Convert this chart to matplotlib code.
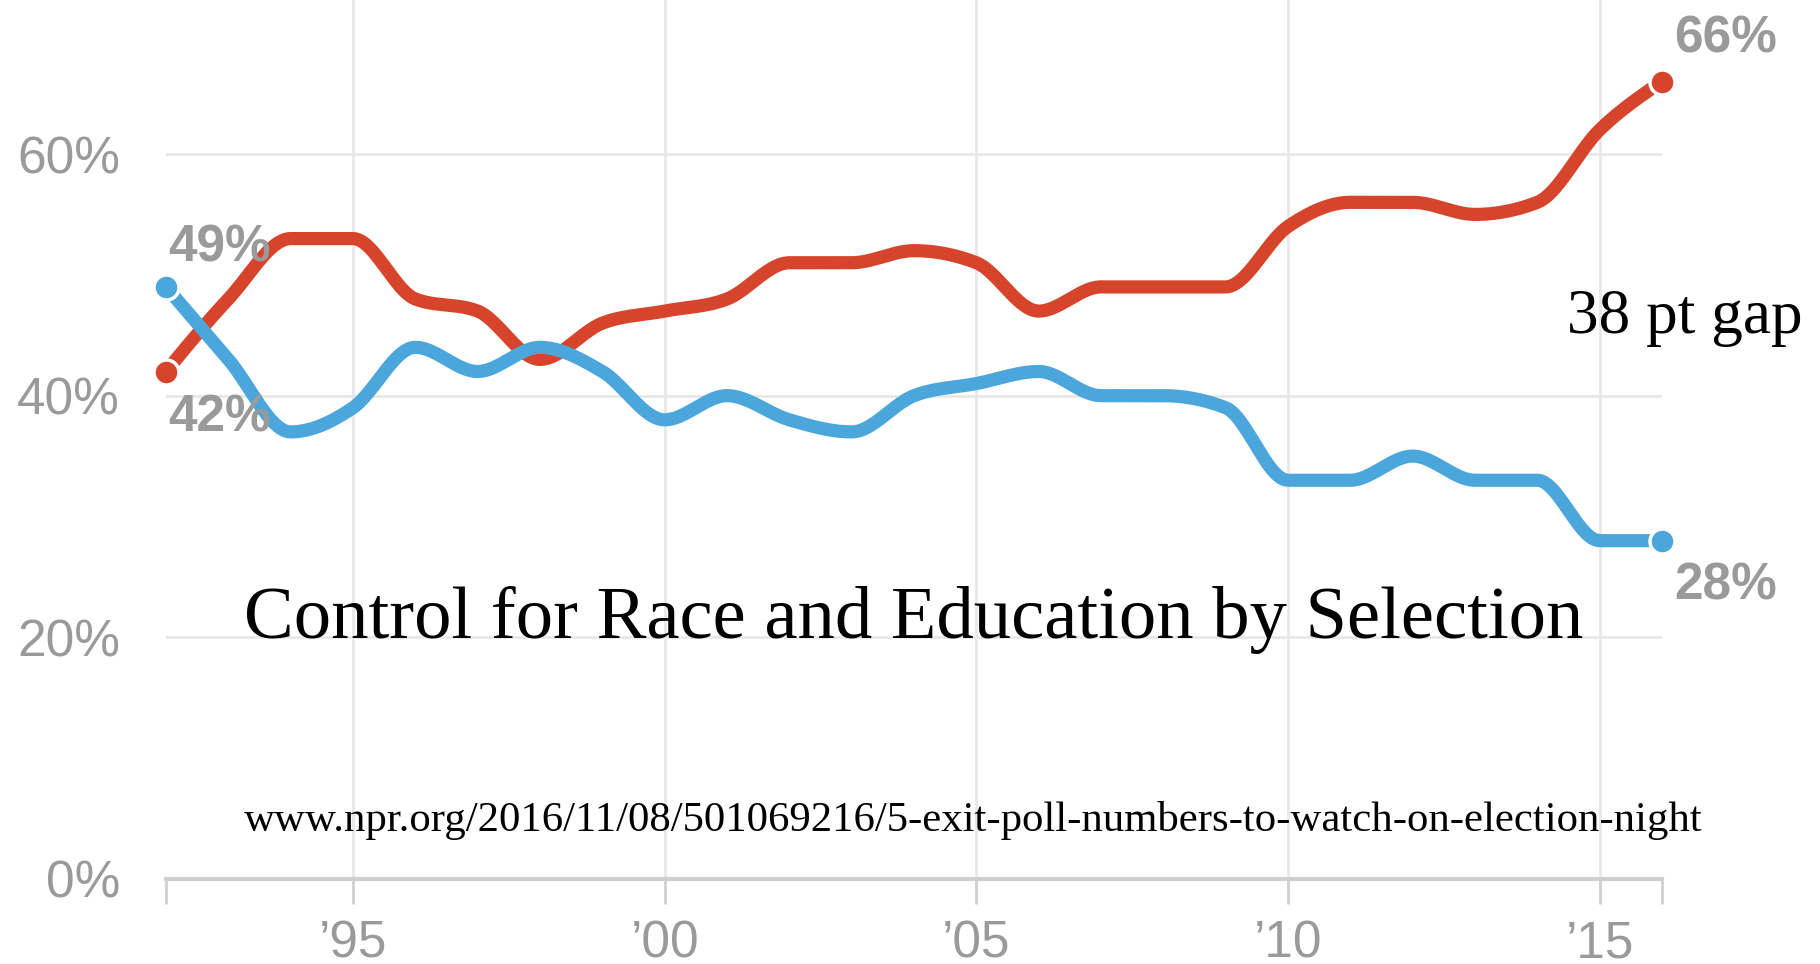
import numpy as np
import matplotlib
matplotlib.use("Agg")
import matplotlib.pyplot as plt

# Yearly shares (%), 1992-2016
years = list(range(1992, 2017))
red_share = [42, 48, 53, 53, 48, 47, 43, 46, 47, 48, 51, 51, 52, 51, 47, 49, 49, 49,
             54, 56, 56, 55, 56, 62, 66]
blue_share = [49, 43, 37, 39, 44, 42, 44, 42, 38, 40, 38, 37, 40, 41, 42, 40, 40, 39,
              33, 33, 35, 33, 33, 28, 28]

y_ticks = [0, 20, 40, 60]
y_tick_labels = ["0%", "20%", "40%", "60%"]
x_ticks = [1992, 1995, 2000, 2005, 2010, 2015, 2016]
x_tick_labels = ["", "\u201995", "\u201900", "\u201905", "\u201910", "\u201915", ""]
grid_years = [1995, 2000, 2005, 2010, 2015]

title_text = "Control for Race and Education by Selection"
gap_text = "38 pt gap"
source_text = "www.npr.org/2016/11/08/501069216/5-exit-poll-numbers-to-watch-on-election-night"

RED = "#d6452b"
BLUE = "#4ba6dc"
GREY_TXT = "#9a9a9a"
GRID = "#e8e8e8"
AXIS = "#cfcfcf"


def monotone_x(x, y, steps=24):
    """Monotone cubic curve through the points (same scheme as d3.curveMonotoneX)."""
    x = np.asarray(x, float)
    y = np.asarray(y, float)
    h = np.diff(x)
    s = np.diff(y) / h
    n = len(x)
    t = np.zeros(n)
    sgn = lambda v: -1.0 if v < 0 else 1.0
    for i in range(1, n - 1):
        s0, s1, h0, h1 = s[i - 1], s[i], h[i - 1], h[i]
        p = (s0 * h1 + s1 * h0) / (h0 + h1)
        t[i] = (sgn(s0) + sgn(s1)) * min(abs(s0), abs(s1), 0.5 * abs(p))
    t[0] = (3 * s[0] - t[1]) / 2
    t[-1] = (3 * s[-1] - t[-2]) / 2
    xs, ys = [], []
    for i in range(n - 1):
        u = np.linspace(0, 1, steps, endpoint=(i == n - 2))
        h00 = 2 * u**3 - 3 * u**2 + 1
        h10 = u**3 - 2 * u**2 + u
        h01 = -2 * u**3 + 3 * u**2
        h11 = u**3 - u**2
        xs.append(x[i] + u * h[i])
        ys.append(h00 * y[i] + h10 * h[i] * t[i] + h01 * y[i + 1] + h11 * h[i] * t[i + 1])
    return np.concatenate(xs), np.concatenate(ys)


W, H = 1820, 964
fig = plt.figure(figsize=(W / 100, H / 100), dpi=100)
fig.patch.set_facecolor("white")

# Plot area: 1992..2016 horizontally, 0% at the baseline, open to the top edge
ax_left, ax_right, base_px, top_px = 166, 1662, 879, 0
px_per_pct = (879 - 154) / 60.0
ax = fig.add_axes([ax_left / W, (H - base_px) / H, (ax_right - ax_left) / W, (base_px - top_px) / H])
ax.set_xlim(1992, 2016)
ax.set_ylim(0, (base_px - top_px) / px_per_pct)
ax.set_facecolor("none")

for side in ["top", "right", "left"]:
    ax.spines[side].set_visible(False)
ax.spines["bottom"].set_color(AXIS)
ax.spines["bottom"].set_linewidth(3.0)
ax.spines["bottom"].set_zorder(3)

# Grid
for yv in y_ticks[1:]:
    ax.axhline(yv, color=GRID, lw=2.0, zorder=0)
for xv in grid_years:
    ax.axvline(xv, color=GRID, lw=2.0, zorder=0)

ax.set_xticks(x_ticks)
ax.set_xticklabels(x_tick_labels)
ax.set_yticks(y_ticks)
ax.set_yticklabels(y_tick_labels)
ax.tick_params(axis="x", direction="out", length=18, width=2.0, color=AXIS,
               pad=11, labelsize=37, labelcolor=GREY_TXT)
ax.tick_params(axis="y", length=0, pad=33, labelsize=37, labelcolor=GREY_TXT)
for lab in ax.get_xticklabels() + ax.get_yticklabels():
    lab.set_fontfamily("Liberation Sans")

# Lines
lw = 9.5
rx, ry = monotone_x(years, red_share)
bx, by = monotone_x(years, blue_share)
ax.plot(rx, ry, color=RED, lw=lw, solid_capstyle="butt", zorder=4, clip_on=False)
ax.plot(bx, by, color=BLUE, lw=lw, solid_capstyle="butt", zorder=5, clip_on=False)

# End-point dots
for series, col, z in [(red_share, RED, 6), (blue_share, BLUE, 7)]:
    ax.plot([years[0], years[-1]], [series[0], series[-1]], "o", ms=18, mfc=col,
            mec="white", mew=2.5, zorder=z, clip_on=False)

# Value labels at both ends
lab_kw = dict(textcoords="offset points", fontsize=37, fontweight="bold",
              color=GREY_TXT, family="Liberation Sans", va="baseline", zorder=8,
              annotation_clip=False)
ax.annotate(f"{blue_share[0]}%", xy=(years[0], blue_share[0]), xytext=(1.5, 18.5), ha="left", **lab_kw)
ax.annotate(f"{red_share[0]}%", xy=(years[0], red_share[0]), xytext=(1.5, -43), ha="left", **lab_kw)
ax.annotate(f"{red_share[-1]}%", xy=(years[-1], red_share[-1]), xytext=(8.5, 21), ha="left", **lab_kw)
ax.annotate(f"{blue_share[-1]}%", xy=(years[-1], blue_share[-1]), xytext=(8.5, -42.5), ha="left", **lab_kw)

# Overlaid annotations
serif = "Liberation Serif"
fig.text(244 / W, 1 - 638 / H, title_text, fontsize=53.7, family=serif, color="black",
         ha="left", va="baseline", zorder=10)
fig.text(1567 / W, 1 - 333 / H, gap_text, fontsize=45.5, family=serif, color="black",
         ha="left", va="baseline", zorder=10)
fig.text(244 / W, 1 - 831 / H, source_text, fontsize=30.8, family=serif, color="black",
         ha="left", va="baseline", zorder=10)

fig.savefig("out.png", dpi=100, facecolor="white")
